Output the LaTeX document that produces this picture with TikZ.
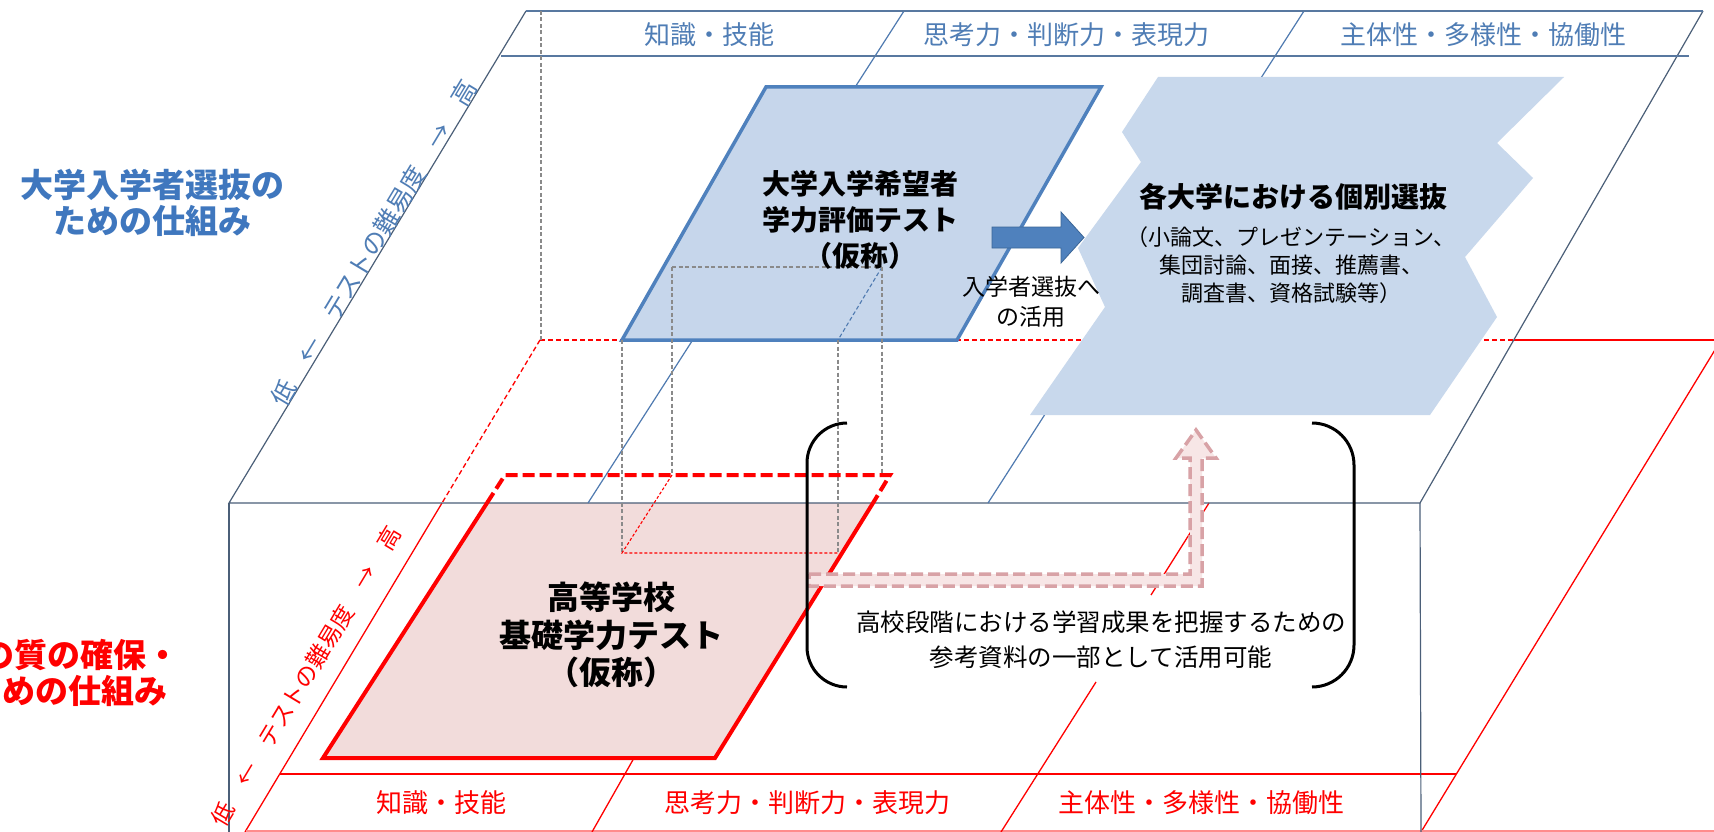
\documentclass[tikz,border=0pt]{standalone}
\usepackage{fontspec}
\setmainfont{Noto Sans CJK JP}
\usetikzlibrary{calc}
\definecolor{edgecol}{HTML}{4B5F78}
\definecolor{divcol}{HTML}{4F7AB0}
\definecolor{hdrline}{HTML}{5878A0}
\definecolor{bluetxt}{HTML}{4F7DB5}
\definecolor{bluetitle}{HTML}{3F77BE}
\definecolor{pfill}{HTML}{C6D6EB}
\definecolor{pdraw}{HTML}{4F81BD}
\definecolor{chevfill}{HTML}{C8D8EC}
\definecolor{arrdraw}{HTML}{3A6596}
\definecolor{redc}{HTML}{FF0000}
\definecolor{redfill}{HTML}{F2DCDB}
\definecolor{pinkarrow}{HTML}{D8A2A6}
\definecolor{pinkfill}{HTML}{F7E6E6}
\definecolor{graydash}{HTML}{8A8A8A}
\tikzset{
  thinedge/.style={draw=edgecol, line width=1.2pt},
  divline/.style={draw=divcol, line width=1.2pt},
  hdr/.style={draw=hdrline, line width=2.2pt},
  gdash/.style={draw=graydash, line width=1.1pt, dash pattern=on 4pt off 2.5pt},
  rdash/.style={draw=redc, line width=1.3pt, dash pattern=on 5pt off 3pt},
  rthin/.style={draw=redc, line width=1.3pt},
  rthick/.style={draw=redc, line width=4pt, line join=miter},
  lbl/.style={inner sep=0pt, align=center},
  bracket/.style={draw=black, line width=3pt},
}
\begin{document}
\begin{tikzpicture}[x=1pt,y=-1pt]
\fill[white] (0,0) rectangle (1714,832);
\useasboundingbox (0,0) rectangle (1714,832);

% ---------- key coordinates
\coordinate (TL) at (526,11);
\coordinate (TR) at (1703,11);
\coordinate (FL) at (229,503);
\coordinate (FR) at (1420,503);
\coordinate (RL) at (540,340);
\coordinate (RLb) at (442,503);
\coordinate (RLe) at (245,832);
\coordinate (RB) at (1514,340);
\coordinate (RRt) at (1721,340);
\coordinate (RRb) at (1421,832);

% ---------- red plane (middle level)
\draw[rdash] (RL) -- (RB);
\draw[rthin] (RB) -- (RRt);
\draw[rdash] (RL) -- (RLb);
\draw[rthin] (RLb) -- (RLe);
\draw[rthin] (RRt) -- (RRb);
\draw[draw=redc, line width=2pt] (280,774) -- (1456,774);
\draw[draw=redc!45, line width=1.2pt] (246,831) -- (1714,831);
\draw[rthin] (634,758) -- (592,832);
\draw[rthin] (1209,503) -- (1151,595);
\draw[rthin] (1096,682) -- (1001,832);

% ---------- lower test fill
\fill[redfill] (487,503) -- (873,503) -- (715,758) -- (323,758) -- cycle;

% ---------- box
\draw[thinedge] (TL) -- (FL) -- (FR) -- (TR);
\draw[thinedge] (FL) -- (229,832);
\draw[thinedge] (FR) -- (1421,832);
\draw[divline] (904,11) -- (588,503);
\draw[divline] (1304,11) -- (988,503);
\draw[hdr] (TL) -- (TR);
\draw[hdr] (501,56) -- (1689,56);

% ---------- upper test parallelogram
\draw[fill=pfill, draw=pdraw, line width=3.5pt, line join=miter]
  (766,87) -- (1101,87) -- (957,340) -- (622,340) -- cycle;

% ---------- projection dashes
\draw[gdash] (541,11) -- (541,340);
\draw[gdash] (672,267) -- (882,267);
\draw[draw=divcol, line width=1.1pt, dash pattern=on 4pt off 2.5pt] (882,267) -- (838,340);
\draw[gdash] (672,267) -- (672,475);
\draw[gdash] (882,267) -- (882,475);
\draw[gdash] (622,340) -- (622,553);
\draw[gdash] (838,340) -- (838,553);
\draw[draw=redc, line width=1.1pt, dash pattern=on 3pt off 2pt] (672,475) -- (622,553) -- (838,553);

% ---------- chevron (individual selection)
\fill[chevfill] (1158,77) -- (1564,77) -- (1497,143) -- (1533,178) -- (1465,257)
  -- (1497,317) -- (1430,415) -- (1030,415) -- (1105,307) -- (1078,248)
  -- (1141,162) -- (1122,132) -- cycle;

% ---------- blue block arrow
\coordinate (bS) at (992,237.5);
\coordinate (bT) at (1084,237.5);
\draw[fill=pdraw, draw=arrdraw, line width=0.8pt]
  ($(bS)+(0,-10.5)$) -- (1061,227) -- (1061,212) -- (bT) -- (1061,263)
  -- (1061,248) -- ($(bS)+(0,10.5)$) -- cycle;

% ---------- lower test outline
\draw[rthick] (487,503) -- (323,758) -- (715,758) -- (873,503);
\draw[rthick, dash pattern=on 12pt off 5pt] (487,503) -- (505,475) -- (890,475) -- (873,503);

% ---------- dashed pink arrow
\coordinate (dS) at (809,580);
\coordinate (dC) at (1196,580);
\coordinate (dT) at (1196,430);
\draw[draw=pinkarrow, fill=pinkfill, line width=3.5pt, dash pattern=on 12pt off 5pt, line join=miter]
  ($(dS)+(0,-6)$) -- ($(dC)+(-6,-6)$) -- ($(dT)+(-6,28)$) -- ($(dT)+(-20,28)$) -- (dT)
  -- ($(dT)+(20,28)$) -- ($(dT)+(6,28)$) -- ($(dC)+(6,6)$) -- ($(dS)+(0,6)$) -- cycle;

% ---------- brackets
\draw[bracket, rounded corners=40pt] (847,423) -- (807,423) -- (807,687) -- (847,687);
\draw[bracket, rounded corners=42pt] (1312,423) -- (1354,423) -- (1354,687) -- (1312,687);

% ---------- texts
\node[lbl, text=bluetitle, font=\bfseries\fontsize{33}{36}\selectfont] (ttlU) at (152,203)
  {大学入学者選抜の\\ための仕組み};
\node[lbl, text=redc, font=\bfseries\fontsize{33}{36}\selectfont, anchor=east] (ttlL1) at (180,655) {の質の確保・};
\node[lbl, text=redc, font=\bfseries\fontsize{33}{36}\selectfont, anchor=east] (ttlL2) at (168,691) {めの仕組み};

\node[lbl, text=bluetxt, font=\fontsize{26}{28}\selectfont] (h1) at (709,35) {知識・技能};
\node[lbl, text=bluetxt, font=\fontsize{26}{28}\selectfont] (h2) at (1066,35) {思考力・判断力・表現力};
\node[lbl, text=bluetxt, font=\fontsize{26}{28}\selectfont] (h3) at (1483,35) {主体性・多様性・協働性};

\node[lbl, text=redc, font=\fontsize{26}{28}\selectfont] (b1) at (441,803) {知識・技能};
\node[lbl, text=redc, font=\fontsize{26}{28}\selectfont] (b2) at (807,803) {思考力・判断力・表現力};
\node[lbl, text=redc, font=\fontsize{26}{28}\selectfont] (b3) at (1201,803) {主体性・多様性・協働性};

\node[lbl, text=bluetxt, font=\fontsize{25}{27}\selectfont, rotate=59] (axU) at (374,243)
  {低　←　テストの難易度　→　高};
\node[lbl, text=redc, font=\fontsize{23}{25}\selectfont, rotate=59] (axL) at (306,676)
  {低　←　テストの難易度　→　高};

\node[lbl, font=\bfseries\fontsize{28}{36}\selectfont] (testU) at (860,220)
  {大学入学希望者\\学力評価テスト\\（仮称）};
\node[lbl, font=\bfseries\fontsize{32}{37.5}\selectfont] (testL) at (611,635)
  {高等学校\\基礎学力テスト\\（仮称）};

\node[lbl, font=\fontsize{23}{30}\selectfont] (use) at (1031,302) {入学者選抜へ\\の活用};

\node[lbl, font=\bfseries\fontsize{28}{30}\selectfont] (chevT) at (1293,197) {各大学における個別選抜};
\node[lbl, font=\fontsize{22}{28}\selectfont] (chevS) at (1291,265)
  {（小論文、プレゼンテーション、\\集団討論、面接、推薦書、\\調査書、資格試験等）};

\node[lbl, font=\fontsize{24.5}{35}\selectfont] (ref) at (1101,640)
  {高校段階における学習成果を把握するための\\参考資料の一部として活用可能};
\end{tikzpicture}
\end{document}
